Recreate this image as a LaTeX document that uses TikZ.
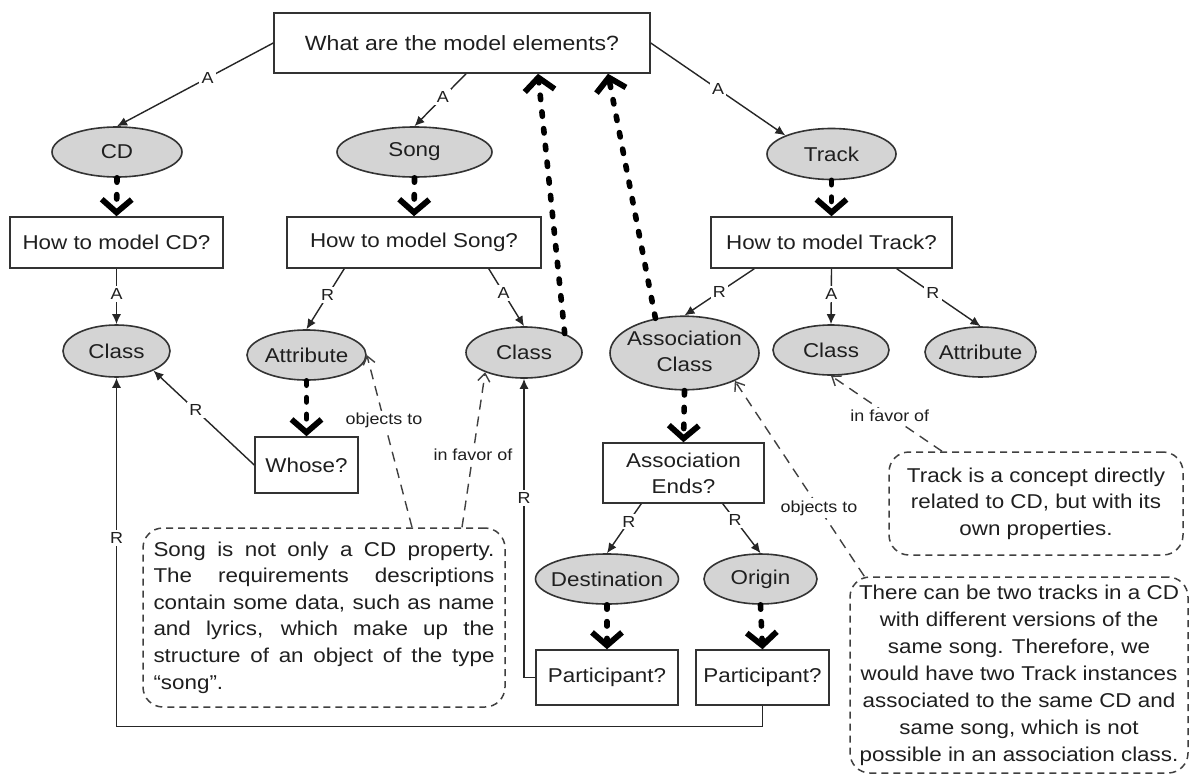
\documentclass[tikz,border=0pt]{standalone}
\usepackage{fontspec}
\setmainfont{Liberation Sans}[FakeStretch=1.12]
\usetikzlibrary{shapes.geometric,arrows.meta,calc}
\newcommand{\zb}[1]{\makebox[0pt]{#1}}
\begin{document}
\begin{tikzpicture}[x=0.5pt,y=-0.5pt,
  every node/.style={text=black!88},
  qbox/.style={draw=black!80, line width=0.75pt, fill=white, align=center, font=\fontsize{10}{11.5}\selectfont, inner sep=0pt},
  elp/.style={ellipse, draw=black!80, line width=0.8pt, fill=black!17, font=\fontsize{10}{13}\selectfont, inner sep=0pt},
  note/.style={draw=black!75, line width=0.75pt, dash pattern=on 3.5pt off 2.5pt, rounded corners=10pt, font=\fontsize{10}{13.3}\selectfont, inner sep=0pt},
  lab/.style={fill=white, inner sep=1.2pt, font=\fontsize{8}{9}\selectfont},
  arr/.style={draw=black!85, line width=0.7pt, -{Latex[length=5pt,width=4.5pt]}},
  big/.style={draw=black, line width=2.8pt, line cap=round, dash pattern=on 2.2pt off 6.2pt, -{Straight Barb[length=6.5pt,width=15pt,line width=2.9pt]}},
  na/.style={draw=black!75, line width=0.7pt, dash pattern=on 5pt off 3.5pt, -{Straight Barb[length=4pt,width=6pt,line width=0.7pt]}}
]
\useasboundingbox (0,0) rectangle (1189,776);
\fill[white] (0,0) rectangle (1189,776);

% question boxes and answers
\node[qbox, minimum width=188pt, minimum height=30pt, font=\fontsize{10.3}{12}\selectfont] (top) at (462,43) {What are the model elements?};
\node[elp, minimum width=65pt, minimum height=25pt] (cd) at (117,152) {\zb{CD}};
\node[elp, minimum width=77.5pt, minimum height=25pt] (song) at (414.5,152) {\zb{Song}};
\node[elp, minimum width=64.5pt, minimum height=25.5pt] (track) at (831.5,154) {\zb{Track}};
\node[qbox, minimum width=106.5pt, minimum height=25.5pt] (hcd) at (116.5,242.5) {How to model CD?};
\node[qbox, minimum width=127pt, minimum height=25.5pt] (hsong) at (414,242.5) {How to model Song?};
\node[qbox, minimum width=120.5pt, minimum height=25.5pt] (htrack) at (831.5,242.5) {How to model Track?};
\node[elp, minimum width=53.5pt, minimum height=26pt] (classL) at (116.5,351) {\zb{Class}};
\node[elp, minimum width=59.5pt, minimum height=25pt] (attrL) at (306.5,355) {\zb{Attribute}};
\node[elp, minimum width=58pt, minimum height=25.5pt] (classM) at (524,352.5) {\zb{Class}};
\node[elp, minimum width=74.5pt, minimum height=35pt] (ac) at (684.5,353) {\zb{\begin{tabular}{@{}c@{}}Association\\Class\end{tabular}}};
\node[elp, minimum width=58pt, minimum height=25pt] (classR) at (831,350) {\zb{Class}};
\node[elp, minimum width=55.5pt, minimum height=25pt] (attrR) at (980.5,352) {\zb{Attribute}};
\node[qbox, minimum width=51.5pt, minimum height=28pt] (whose) at (306.5,465) {Whose?};
\node[qbox, minimum width=80.5pt, minimum height=30pt, font=\fontsize{10}{13}\selectfont] (ae) at (683.5,473) {Association\\Ends?};
\node[elp, minimum width=71.5pt, minimum height=25pt] (dest) at (607,579) {\zb{Destination}};
\node[elp, minimum width=56.5pt, minimum height=25pt] (orig) at (760.5,579) {\zb{Origin}};
\node[qbox, minimum width=71pt, minimum height=27.5pt] (pl) at (607,677.5) {Participant?};
\node[qbox, minimum width=66.5pt, minimum height=27.5pt] (pr) at (762.5,677.5) {Participant?};

% notes
\node[note, minimum width=181pt, minimum height=89.5pt, text width=170.5pt, align=justify] (songnote) at (324,617.5) {\tolerance=9999 Song is not only a CD property.\linebreak The requirements descriptions\linebreak contain some data, such as name\linebreak and lyrics, which make up the\linebreak structure of an object of the type\linebreak “song”.};
\node[note, minimum width=147pt, minimum height=51.5pt, align=center] (tracknote) at (1036,503.5) {Track is a concept directly\\related to CD, but with its\\own properties.};
\node[note, minimum width=169pt, minimum height=98pt, align=center, font=\fontsize{10}{13.5}\selectfont] (bignote) at (1019,675) {There can be two tracks in a CD\\with different versions of the\\same song. Therefore, we\\would have two Track instances\\associated to the same CD and\\same song, which is not\\possible in an association class.};

% A / R connectors
\draw[arr] (top.west) -- node[lab,pos=0.42]{A} (cd.north);
\draw[arr] ($(top.south)+(4,0)$) -- node[lab,pos=0.45]{A} (song.north);
\draw[arr] (top.east) -- node[lab,pos=0.5]{A} (track.north west);
\draw[arr] (hcd.south) -- node[lab,pos=0.45]{A} (classL.north);
\draw[arr] ($(hsong.south west)+(58,0)$) -- node[lab,pos=0.44]{R} (attrL.north);
\draw[arr] ($(hsong.south east)+(-53,0)$) -- node[lab,pos=0.42]{A} (classM.north);
\draw[arr] ($(htrack.south west)+(44,0)$) -- node[lab,pos=0.5]{R} (ac.north);
\draw[arr] (htrack.south) -- node[lab,pos=0.45]{A} (classR.north);
\draw[arr] ($(htrack.south east)+(-56,0)$) -- node[lab,pos=0.43]{R} (attrR.north);
\draw[arr] (whose.west) -- node[lab,pos=0.58]{R} (classL.-28);
\draw[arr] ($(ae.south west)+(39,0)$) -- node[lab,pos=0.36]{R} (dest.north);
\draw[arr] ($(ae.south east)+(-42,0)$) -- node[lab,pos=0.33]{R} (orig.north);
\draw[arr] (pl.west) -| node[lab,pos=0.8]{R} (classM.south);
\draw[arr] (pr.south) -- ++(0,21) -| node[lab,pos=0.77]{R} (classL.south);

% thick dashed connectors
\draw[big] (cd.south) -- (hcd.north);
\draw[big] (song.south) -- (hsong.north);
\draw[big] (track.south) -- (htrack.north);
\draw[big] (attrL.south) -- (whose.north);
\draw[big] (ac.south) -- (ae.north);
\draw[big] (dest.south) -- (pl.north);
\draw[big] (orig.south) -- (pr.north);
\draw[big] (classM.25) -- ($(top.south)+(76,0)$);
\draw[big] (ac.130) -- ($(top.south)+(146,0)$);

% note connectors
\draw[na] ($(songnote.north)+(88,0)$) -- node[lab,pos=0.62]{objects to} (attrL.east);
\draw[na] ($(songnote.north)+(138,0)$) -- node[lab,pos=0.47]{in favor of} (classM.-153);
\draw[na] ($(tracknote.north)+(-94,0)$) -- node[lab,pos=0.47]{in favor of} (classR.south);
\draw[na] ($(bignote.north west)+(15,0)$) -- node[lab,pos=0.35]{objects to} (ac.-29);
\end{tikzpicture}
\end{document}
